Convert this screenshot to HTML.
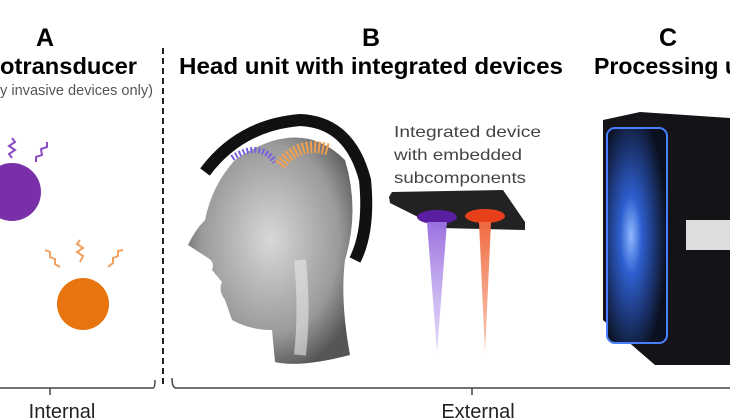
<!DOCTYPE html>
<html><head><style>body{margin:0;background:#fff}svg{display:block}</style></head><body>
<svg width="730" height="420" viewBox="0 0 730 420" xmlns="http://www.w3.org/2000/svg" font-family="Liberation Sans, sans-serif">
<defs>
<radialGradient id="glow" cx="0.4" cy="0.5" r="0.6"><stop offset="0" stop-color="#8fb8ff"/><stop offset="0.3" stop-color="#2e5fd0"/><stop offset="1" stop-color="#0b1020"/></radialGradient>
<linearGradient id="pb" x1="0" x2="0" y1="0" y2="1"><stop offset="0" stop-color="#9a70e0"/><stop offset="1" stop-color="#c9b5f0" stop-opacity="0.5"/></linearGradient>
<linearGradient id="ob" x1="0" x2="0" y1="0" y2="1"><stop offset="0" stop-color="#f06a40"/><stop offset="1" stop-color="#f5a080" stop-opacity="0.6"/></linearGradient>
<radialGradient id="head" cx="0.5" cy="0.45" r="0.6"><stop offset="0" stop-color="#d8d8d8"/><stop offset="0.7" stop-color="#9a9a9a"/><stop offset="1" stop-color="#555"/></radialGradient>
</defs>
<text x="45" y="46" font-size="25" font-weight="bold" text-anchor="middle">A</text>
<text x="0" y="74" font-size="23" font-weight="bold" textLength="137" lengthAdjust="spacingAndGlyphs">otransducer</text>
<text x="0" y="95" font-size="14.5" fill="#555" textLength="153" lengthAdjust="spacingAndGlyphs">y invasive devices only)</text>
<line x1="163" y1="48" x2="163" y2="385" stroke="#222" stroke-width="2" stroke-dasharray="6,4"/>
<circle cx="12" cy="192" r="29" fill="#7a2fa8"/>
<path d="M12 158 l-3 -4 l6 -4 l-6 -4 l6 -4 l-3 -4" stroke="#8a4cc0" stroke-width="2" fill="none"/>
<path d="M36 162 l0 -5 l6 -2 l-1 -6 l6 -2 l0 -5" stroke="#8a4cc0" stroke-width="2" fill="none"/>
<circle cx="83" cy="304" r="26" fill="#e8740e"/>
<path d="M45 250 l5 2 l0 5 l5 2 l0 5 l5 3" stroke="#f0a060" stroke-width="2" fill="none"/>
<path d="M80 240 l-3 4 l6 4 l-6 4 l6 4 l-3 6" stroke="#f0a060" stroke-width="2" fill="none"/>
<path d="M123 250 l-5 1 l0 5 l-5 2 l0 5 l-5 4" stroke="#f0a060" stroke-width="2" fill="none"/>
<path d="M0 388 H153 Q155 388 155 380" stroke="#444" stroke-width="1.5" fill="none"/>
<line x1="50" y1="388" x2="50" y2="395" stroke="#444" stroke-width="1.5"/>
<text x="62" y="418" font-size="20" text-anchor="middle" fill="#222">Internal</text>
<path d="M172 378 Q172 388 176 388 H730" stroke="#444" stroke-width="1.5" fill="none"/>
<line x1="472" y1="388" x2="472" y2="395" stroke="#444" stroke-width="1.5"/>
<text x="478" y="418" font-size="20" text-anchor="middle" fill="#222">External</text>
<text x="371" y="46" font-size="25" font-weight="bold" text-anchor="middle">B</text>
<text x="179" y="74" font-size="23" font-weight="bold" textLength="384" lengthAdjust="spacingAndGlyphs">Head unit with integrated devices</text>
<text x="668" y="46" font-size="25" font-weight="bold" text-anchor="middle">C</text>
<text x="594" y="74" font-size="23" font-weight="bold" textLength="145" lengthAdjust="spacingAndGlyphs">Processing u</text>
<path d="M235 160 Q300 115 345 160 Q360 210 345 260 Q340 300 350 355 Q300 368 275 362 L272 330 Q250 330 232 320 L225 300 Q218 290 222 282 L212 270 Q215 262 208 258 L188 245 Q195 230 205 220 Q212 185 235 160Z" fill="url(#head)"/>
<path d="M205 172 Q240 125 300 120 Q350 122 365 180 Q370 230 355 260" stroke="#111" stroke-width="12" fill="none"/>
<path d="M232 158 Q260 140 275 162" stroke="#7a5ee0" stroke-width="6" fill="none" stroke-dasharray="2,2"/>
<path d="M280 165 Q300 140 330 150" stroke="#f0a050" stroke-width="12" fill="none" stroke-dasharray="2,2"/>
<path d="M300 260 Q305 310 300 355" stroke="#e8e8e8" stroke-width="12" fill="none" opacity="0.6"/>
<text x="394" y="137" font-size="16" fill="#444" textLength="147" lengthAdjust="spacingAndGlyphs">Integrated device</text>
<text x="394" y="160" font-size="16" fill="#444" textLength="128" lengthAdjust="spacingAndGlyphs">with embedded</text>
<text x="394" y="183" font-size="16" fill="#444" textLength="132" lengthAdjust="spacingAndGlyphs">subcomponents</text>
<path d="M389 197 L392 192 L503 190 L525 222 L525 230 L440 228 L390 203Z" fill="#222"/>
<ellipse cx="437" cy="217" rx="20" ry="7" fill="#5a1ea0"/>
<ellipse cx="485" cy="216" rx="20" ry="7" fill="#e8401a"/>
<path d="M427 222 L447 222 L437 353Z" fill="url(#pb)"/>
<path d="M479 222 L491 222 L485 353Z" fill="url(#ob)"/>
<path d="M603 120 L640 112 L730 118 L730 365 L655 365 L603 320Z" fill="#141418"/>
<rect x="607" y="128" width="60" height="215" rx="8" fill="url(#glow)" stroke="#4a80ff" stroke-width="2"/>
<rect x="686" y="220" width="44" height="30" fill="#ddd"/>
</svg>
</body></html>
